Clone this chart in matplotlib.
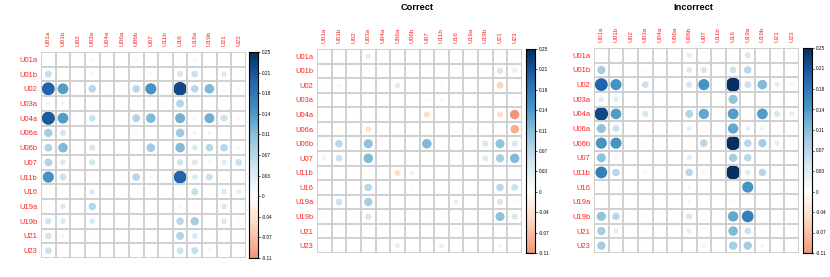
import numpy as np
import matplotlib
matplotlib.use('Agg')
import matplotlib.pyplot as plt
from matplotlib.colors import LinearSegmentedColormap, Normalize
from matplotlib.patches import Circle

plt.rcParams['font.family'] = ['Liberation Sans', 'DejaVu Sans']

labels = ['U01a', 'U01b', 'U02', 'U03a', 'U04a', 'U06a', 'U06b', 'U07',
          'U11b', 'U16', 'U19a', 'U19b', 'U21', 'U23']

# rows = labels (top to bottom), columns = labels (left to right)
all_vals = [
    [0, .002, 0, .013, 0, 0, .015, .003, 0, .006, .015, 0, .003, .003],
    [.06, 0, .002, .015, 0, .002, .012, .012, 0, .046, .055, 0, .04, -.008],
    [.20, .14, 0, .07, 0, .002, .07, .15, 0, .225, .07, .11, .015, .015],
    [.02, .02, 0, 0, 0, 0, -.003, -.003, -.004, .075, .002, -.005, 0, -.003],
    [.21, .14, 0, .055, 0, .002, .075, .11, 0, .12, .015, .12, .055, .015],
    [.085, .046, 0, .006, 0, 0, .015, .006, 0, .09, .018, .018, 0, -.006],
    [.075, .11, 0, .046, 0, 0, 0, .09, .002, .11, .04, .07, .07, .015],
    [.075, .04, 0, .046, 0, .002, .012, 0, 0, .05, .04, .013, .035, .055],
    [.15, .055, 0, .009, 0, -.006, .07, .012, 0, .20, .04, .055, .002, .002],
    [.002, .004, .002, .04, 0, .002, .002, 0, 0, 0, .06, 0, .04, .03],
    [.012, .04, 0, .07, 0, 0, -.01, .002, 0, .018, 0, .002, .04, .009],
    [.05, .04, .002, .04, 0, .002, .012, .008, .002, .07, .085, 0, .04, .01],
    [.05, .018, .002, .006, 0, 0, .012, 0, 0, .075, .04, .008, 0, .005],
    [.055, .002, 0, .002, 0, -.005, .002, .012, -.005, .055, .06, .015, .009, 0],
]

correct_vals = [
    [0, .002, .002, .035, 0, .002, .002, -.002, 0, 0, 0, 0, .009, .012],
    [.002, 0, -.008, .009, .002, .002, -.008, -.012, .002, 0, 0, -.012, .046, -.03],
    [-.005, -.018, 0, 0, 0, .035, 0, -.008, .012, 0, .002, 0, -.055, 0],
    [.005, .002, 0, 0, -.002, 0, 0, -.012, -.018, -.002, 0, -.005, .002, .002],
    [0, -.012, .009, .006, 0, .005, 0, -.046, 0, 0, 0, 0, -.046, -.11],
    [0, -.012, 0, -.04, 0, 0, .002, -.002, 0, -.005, -.012, -.002, 0, -.09],
    [.002, .07, 0, .10, 0, .002, 0, .11, .002, .002, 0, .046, .10, .046],
    [.02, .055, 0, .11, 0, .002, .002, 0, .002, .002, .002, .04, .085, .11],
    [0, .002, .002, -.012, 0, -.046, .02, 0, 0, 0, 0, .002, .002, .002],
    [.005, .002, .002, .07, .002, .002, -.012, .002, .002, 0, 0, .002, .07, .055],
    [.008, .055, 0, .085, 0, 0, -.005, .002, 0, .03, 0, .002, .046, .012],
    [-.005, .003, -.003, .046, .002, .003, .002, .008, -.005, .002, 0, 0, .10, .046],
    [-.003, .008, .003, .002, 0, .002, 0, .002, 0, .002, 0, .002, 0, .012],
    [0, 0, 0, -.003, 0, -.03, 0, 0, -.03, 0, .002, 0, .018, 0],
]

incorrect_vals = [
    [0, 0, 0, 0, .002, 0, .035, .002, 0, .012, .046, 0, .002, 0],
    [.085, 0, .002, .012, .002, 0, .04, .046, 0, .055, .07, .008, .012, .002],
    [.20, .15, 0, .055, 0, 0, .046, .15, 0, .25, .055, .11, .03, .018],
    [.035, .035, .002, 0, .002, 0, -.002, -.002, 0, .10, .004, -.003, 0, -.003],
    [.225, .14, 0, .046, 0, .002, .075, .13, 0, .14, .009, .14, .046, .03],
    [.10, .055, .002, .009, .002, 0, .03, .009, 0, .13, .03, .02, .002, .002],
    [.15, .15, 0, .009, .002, .002, 0, .07, 0, .25, .07, .085, .03, 0],
    [.10, .015, 0, .002, 0, 0, .035, 0, 0, .085, .07, .009, -.008, 0],
    [.17, .07, 0, .015, 0, 0, .07, .015, 0, .25, .035, .07, 0, 0],
    [-.008, .009, .002, .002, .002, .002, .018, .002, .002, 0, .15, .002, -.004, 0],
    [.008, .002, 0, 0, .002, 0, -.02, 0, 0, .012, 0, 0, .002, 0],
    [.10, .07, .002, .015, .002, 0, .046, .008, 0, .13, .17, 0, .002, 0],
    [.085, .03, 0, .006, .002, 0, .03, .002, 0, .11, .055, .012, 0, 0],
    [.085, .002, 0, .006, 0, 0, .002, .018, 0, .085, .085, .018, .002, 0],
]

titles = ['', 'Correct', 'Incorrect']
col_lim = (-0.11, 0.25)
cbar_labels = ['-0.11', '-0.07', '-0.04', '0', '0.03', '0.07', '0.11',
               '0.14', '0.18', '0.21', '0.25']

cmap = LinearSegmentedColormap.from_list(
    'rdbu', ["#67001F", "#B2182B", "#D6604D", "#F4A582", "#FDDBC7", "#FFFFFF",
             "#D1E5F0", "#92C5DE", "#4393C3", "#2166AC", "#053061"])
scale = max(abs(col_lim[0]), abs(col_lim[1]))
norm = Normalize(-scale, scale)

W, H = 830, 277
fig = plt.figure(figsize=(W / 100, H / 100), dpi=100)

grid_boxes = [(41, 52, 246, 258), (317, 49, 522, 253), (594, 48, 799, 253)]
cbar_boxes = [(249, 258), (526, 535), (803, 812)]
title_pos = [None, (417, 8), (693, 8)]


def fbox(x0, y0, x1, y1):
    return [x0 / W, 1 - y1 / H, (x1 - x0) / W, (y1 - y0) / H]


n = len(labels)
for k, vals in enumerate([all_vals, correct_vals, incorrect_vals]):
    M = np.array(vals, dtype=float)
    gx0, gy0, gx1, gy1 = grid_boxes[k]
    ax = fig.add_axes(fbox(gx0, gy0, gx1, gy1))
    ax.set_xlim(0, n)
    ax.set_ylim(n, 0)
    for i in range(n):
        for j in range(n):
            v = M[i, j]
            if v == 0:
                continue
            r = 0.98 * np.sqrt(abs(v) / scale) / 2
            ax.add_patch(Circle((j + 0.5, i + 0.5), r,
                                facecolor=cmap(norm(v)), edgecolor='none',
                                zorder=2))
    for t in range(n + 1):
        ax.axhline(t, color='#cdcdcd', lw=1.3, zorder=3)
        ax.axvline(t, color='#cdcdcd', lw=1.3, zorder=3)
    for s in ax.spines.values():
        s.set_visible(False)
    ax.set_xticks(np.arange(n) + 0.5)
    ax.set_xticklabels(labels, rotation=90, color='#ff2020', fontsize=4.6)
    ax.xaxis.tick_top()
    ax.set_yticks(np.arange(n) + 0.5)
    ax.set_yticklabels(labels, color='#ff2020', fontsize=5.4)
    ax.tick_params(axis='x', length=0, pad=4)
    ax.tick_params(axis='y', length=0, pad=2.5)

    # colour bar
    cx0, cx1 = cbar_boxes[k]
    cax = fig.add_axes(fbox(cx0, gy0, cx1, gy1))
    grad = np.linspace(col_lim[0], col_lim[1], 300).reshape(-1, 1)
    cax.imshow(grad, aspect='auto', cmap=cmap, norm=norm, origin='lower',
               extent=[0, 1, col_lim[0], col_lim[1]])
    cax.set_xticks([])
    cax.set_yticks(np.linspace(col_lim[0], col_lim[1], len(cbar_labels)))
    cax.set_yticklabels(cbar_labels, fontsize=3.4)
    cax.yaxis.tick_right()
    cax.tick_params(axis='y', length=1.5, width=0.5, pad=1)
    for s in cax.spines.values():
        s.set_linewidth(0.8)
        s.set_color('black')

    if titles[k]:
        tx, ty = title_pos[k]
        fig.text(tx / W, 1 - ty / H, titles[k], ha='center', va='center',
                 fontsize=6.7, fontweight='bold')

fig.savefig('out.png', dpi=100)
